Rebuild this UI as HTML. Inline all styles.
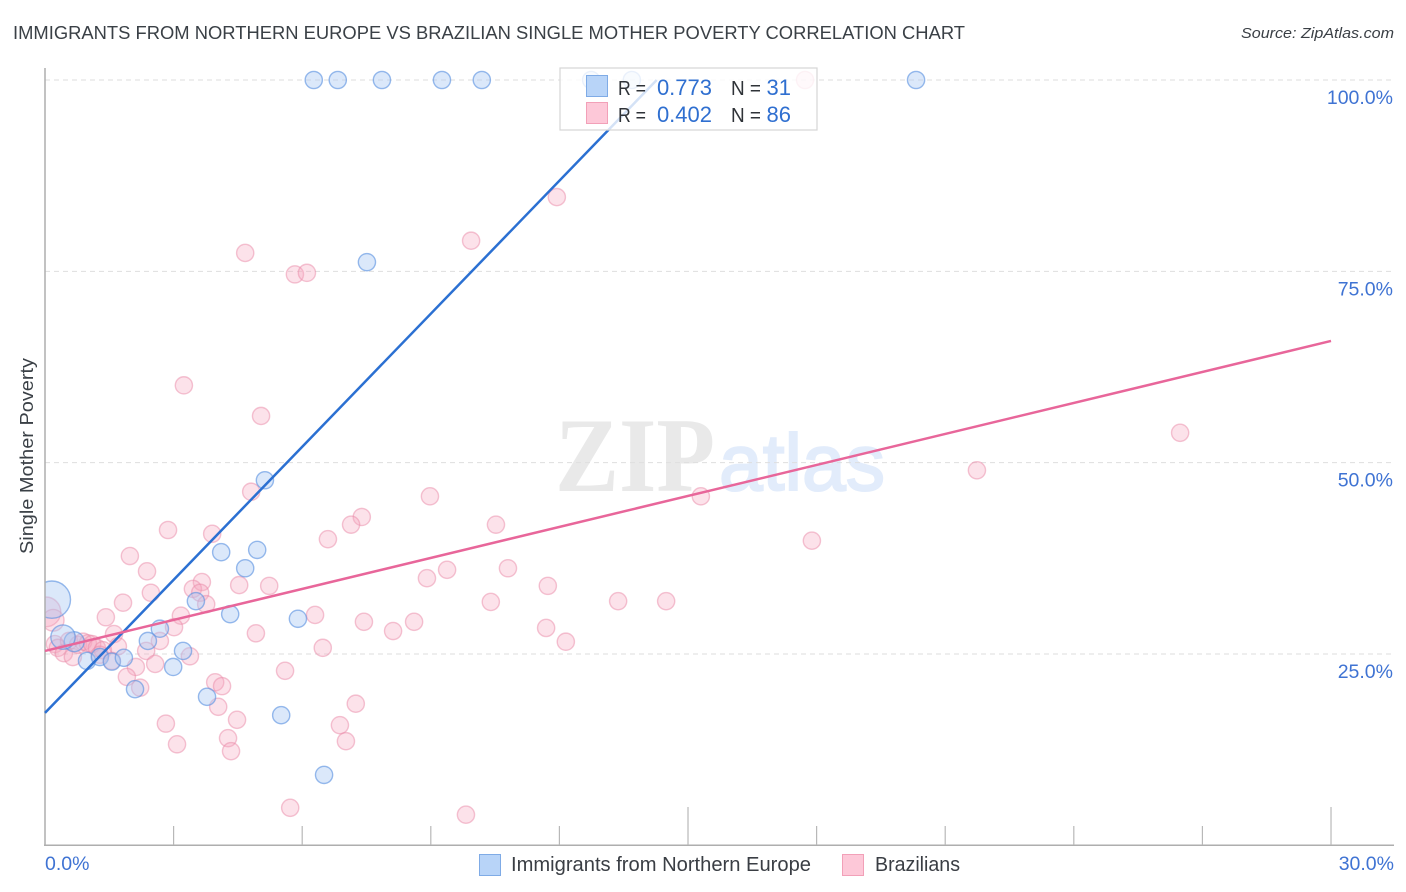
<!DOCTYPE html>
<html lang="en">
<head>
<meta charset="utf-8">
<title>Immigrants from Northern Europe vs Brazilian Single Mother Poverty Correlation Chart</title>
<style>
html,body{margin:0;padding:0;background:#fff;}
svg{display:block;font-family:"Liberation Sans",sans-serif;}
</style>
</head>
<body>
<svg id="chart" xmlns="http://www.w3.org/2000/svg" width="1406" height="892" viewBox="0 0 1406 892">
  <rect x="0" y="0" width="1406" height="892" fill="#ffffff"></rect>
  <text x="13" y="39" font-size="18.5" fill="#3a4046" textLength="952" lengthAdjust="spacingAndGlyphs">IMMIGRANTS FROM NORTHERN EUROPE VS BRAZILIAN SINGLE MOTHER POVERTY CORRELATION CHART</text>
  <text x="1241" y="38" font-size="15" font-style="italic" fill="#3a3f45" textLength="153" lengthAdjust="spacingAndGlyphs">Source: ZipAtlas.com</text>
  <text x="555" y="491" font-family="'Liberation Serif',serif" font-weight="bold" font-size="106" fill="#e9e9e9" textLength="160" lengthAdjust="spacingAndGlyphs">ZIP</text>
  <text x="719" y="490" font-family="'Liberation Sans',sans-serif" font-size="80" fill="#e2ecfb" stroke="#e2ecfb" stroke-width="2" textLength="166" lengthAdjust="spacingAndGlyphs">atlas</text>
  <g id="grid"></g>
  <g id="marks-pink"></g>
  <g id="marks-blue"></g>
  <rect x="0" y="60" width="45" height="786" fill="#ffffff"></rect>
  <g id="axes"></g>
  <g id="trends"></g>
  <g id="legend-top"></g>
  <text transform="translate(33,456) rotate(-90)" text-anchor="middle" font-size="18.5" fill="#3a4046" textLength="196" lengthAdjust="spacingAndGlyphs">Single Mother Poverty</text>
  <g>
    <rect x="479.5" y="854.5" width="21" height="21" fill="#b8d4f8" stroke="#7fabe6"></rect>
    <text x="511" y="871" font-size="20" fill="#3a3e44" textLength="300" lengthAdjust="spacingAndGlyphs">Immigrants from Northern Europe</text>
    <rect x="842.5" y="854.5" width="21" height="21" fill="#fdc8d8" stroke="#f2a0b8"></rect>
    <text x="875" y="871" font-size="20" fill="#3a3e44" textLength="85" lengthAdjust="spacingAndGlyphs">Brazilians</text>
  </g>
</svg>
<script>
var blueX = [6.27,6.83,7.86,9.26,10.19,20.32,12.74,13.69,7.51,5.13,4.11,4.95,4.67,3.52,4.32,5.90,2.68,2.40,3.22,2.99,0.98,0.68,1.28,1.56,1.84,2.10,3.78,5.51,6.51,0.16,0.42];
var blueY = [100,100,100,100,100,100,100,100,76.2,47.7,38.3,38.6,36.2,31.9,30.2,29.6,28.3,26.7,25.4,23.3,24.1,26.6,24.6,24.0,24.5,20.4,19.4,17.0,9.2,32.1,27.2];
var blueWeight = [1,1,1,1,1,1,1,1,1,1,1,1,1,1,1,1,1,1,1,1,1,1.35,1,1,1,1,1,1,1,4.7,2];
var pinkX = [17.73,11.94,9.94,4.67,5.83,6.11,3.24,5.04,26.48,21.74,15.30,8.98,4.81,10.52,7.39,7.14,2.87,3.90,6.60,17.89,1.98,2.38,10.80,9.38,8.91,3.66,3.45,3.62,4.53,5.23,11.73,2.47,1.82,3.76,10.40,13.37,14.49,1.42,3.17,6.30,3.01,7.44,8.61,8.12,11.69,4.92,1.61,12.15,2.68,1.70,2.36,6.48,3.38,2.57,2.12,5.60,1.91,2.22,3.97,4.13,4.04,7.25,2.82,4.48,6.88,4.27,7.02,3.08,4.34,5.72,9.82,0.02,0.19,0.23,0.30,0.44,0.65,0.56,0.77,0.89,1.00,1.10,1.21,1.35,1.28,1.56];
var pinkY = [100,84.7,79.0,77.4,74.6,74.8,60.1,56.1,53.9,49.0,45.6,45.6,46.2,41.9,42.9,41.9,41.2,40.7,40.0,39.8,37.8,35.8,36.2,36.0,34.9,34.4,33.5,33.0,34.0,33.9,33.9,33.0,31.7,31.5,31.8,31.9,31.9,29.8,30.0,30.1,28.5,29.2,29.2,28.0,28.4,27.7,27.6,26.6,26.7,26.0,25.4,25.8,24.7,23.7,23.3,22.8,22.0,20.6,21.3,20.8,18.1,18.5,15.9,16.4,15.7,14.0,13.6,13.2,12.3,4.9,4.0,30.5,29.4,26.3,25.8,25.1,24.6,26.7,26.2,26.6,26.4,26.3,25.8,25.5,24.9,24.1];
var pinkWeight = [1,1,1,1,1,1,1,1,1,1,1,1,1,1,1,1,1,1,1,1,1,1,1,1,1,1,1,1,1,1,1,1,1,1,1,1,1,1,1,1,1,1,1,1,1,1,1,1,1,1,1,1,1,1,1,1,1,1,1,1,1,1,1,1,1,1,1,1,1,1,1,3,1.6,1,1,1,1,1,1,1,1,1,1,1,1,1];
var yGridValues = [25,50,75,100];
var yTickLabels = ["25.0%","50.0%","75.0%","100.0%"];
var xTickValues = [0,3,6,9,12,15,18,21,24,27,30];
var xTallTicks = [15,30];
var xTickLabels = ["0.0%","30.0%"];
var blueTrendX = [0,14.27];
var blueTrendY = [17.3,100];
var pinkTrendX = [0,30];
var pinkTrendY = [25.4,65.9];
var legendR = ["0.773","0.402"];
var legendN = ["31","86"];

var NS = "http://www.w3.org/2000/svg";
function xScale(v){ return 45 + v * 42.867; }
function yScale(v){ return 845.3 - v * 7.653; }
function rScale(w){ return 8.6 * Math.sqrt(w); }
function make(parent, tag, attrs, text){
  var el = document.createElementNS(NS, tag);
  for (var k in attrs) el.setAttribute(k, attrs[k]);
  if (text !== undefined) el.textContent = text;
  parent.appendChild(el);
  return el;
}

var grid = document.getElementById("grid");
yGridValues.forEach(function(v, i){
  var line = make(grid, "line", {x1:45, x2:1394, y1:yScale(v), y2:yScale(v), stroke:"#dedede", "stroke-width":1, "stroke-dasharray":"5 4"});
  
  
  var label = make(grid, "text", {x:1393, y:yScale(v)+24, "text-anchor":"end", "font-size":19.5, fill:"#3f73d3"}, yTickLabels[i]);
  
  
});

var axes = document.getElementById("axes");
var yAxis = make(axes, "line", {x1:45, x2:45, y1:68, y2:846, stroke:"#aeaeae", "stroke-width":1.5});


var xAxis = make(axes, "line", {x1:44, x2:1394, y1:845.3, y2:845.3, stroke:"#aeaeae", "stroke-width":1.5});


xTickValues.forEach(function(v){
  if (v === 0) return;
  var tall = xTallTicks.indexOf(v) >= 0;
  var tick = make(axes, "line", {x1:xScale(v), x2:xScale(v), y1:tall ? 807 : 826, y2:845, stroke:"#b8b8b8", "stroke-width":1.2});
  
  
});
var xLabelStart = make(axes, "text", {x:45, y:870, "font-size":19.5, fill:"#3f73d3"}, xTickLabels[0]);


var xLabelEnd = make(axes, "text", {x:1394, y:870, "text-anchor":"end", "font-size":19.5, fill:"#3f73d3"}, xTickLabels[1]);



var pinkGroup = document.getElementById("marks-pink");
pinkX.forEach(function(v, i){
  var c = make(pinkGroup, "circle", {cx:xScale(v), cy:yScale(pinkY[i]), r:rScale(pinkWeight[i]), fill:"#f7a8c0", "fill-opacity":0.33, stroke:"#e98aa8", "stroke-opacity":0.5, "stroke-width":1.4});
  
  
});
var blueGroup = document.getElementById("marks-blue");
blueX.forEach(function(v, i){
  var c = make(blueGroup, "circle", {cx:xScale(v), cy:yScale(blueY[i]), r:rScale(blueWeight[i]), fill:"#a9c9f2", "fill-opacity":0.42, stroke:"#5a92e0", "stroke-opacity":0.62, "stroke-width":1.4});
  
  
});

var trends = document.getElementById("trends");
var blueLine = make(trends, "line", {x1:xScale(blueTrendX[0]), y1:yScale(blueTrendY[0]), x2:xScale(blueTrendX[1]), y2:yScale(blueTrendY[1]), stroke:"#2b70d2", "stroke-width":2.5});


var pinkLine = make(trends, "line", {x1:xScale(pinkTrendX[0]), y1:yScale(pinkTrendY[0]), x2:xScale(pinkTrendX[1]), y2:yScale(pinkTrendY[1]), stroke:"#e8669a", "stroke-width":2.5});



var lg = document.getElementById("legend-top");


var lgBox = make(lg, "rect", {x:560, y:68, width:257, height:62, fill:"#ffffff", "fill-opacity":0.8, stroke:"#d6d6d6", "stroke-width":1.2});


var swatchFill = ["#b8d4f8","#fdc8d8"];
var swatchStroke = ["#7fabe6","#f2a0b8"];
legendR.forEach(function(v, i){
  var base = 95 + i * 27;
  var sw = make(lg, "rect", {x:586.5, y:75.5 + i * 27, width:21, height:21, fill:swatchFill[i], stroke:swatchStroke[i]});
  
  
  var rLabel = make(lg, "text", {x:618, y:base, "font-size":20, fill:"#2f3338", textLength:28, lengthAdjust:"spacingAndGlyphs"}, "R =");
  
  
  var rValue = make(lg, "text", {x:712, y:base, "text-anchor":"end", "font-size":22, fill:"#2f6fd0"}, v);
  
  
  var nLabel = make(lg, "text", {x:731, y:base, "font-size":20, fill:"#2f3338", textLength:30, lengthAdjust:"spacingAndGlyphs"}, "N =");
  
  
  var nValue = make(lg, "text", {x:791, y:base, "text-anchor":"end", "font-size":22, fill:"#2f6fd0"}, legendN[i]);
  
  
});
</script>
</body>
</html>
